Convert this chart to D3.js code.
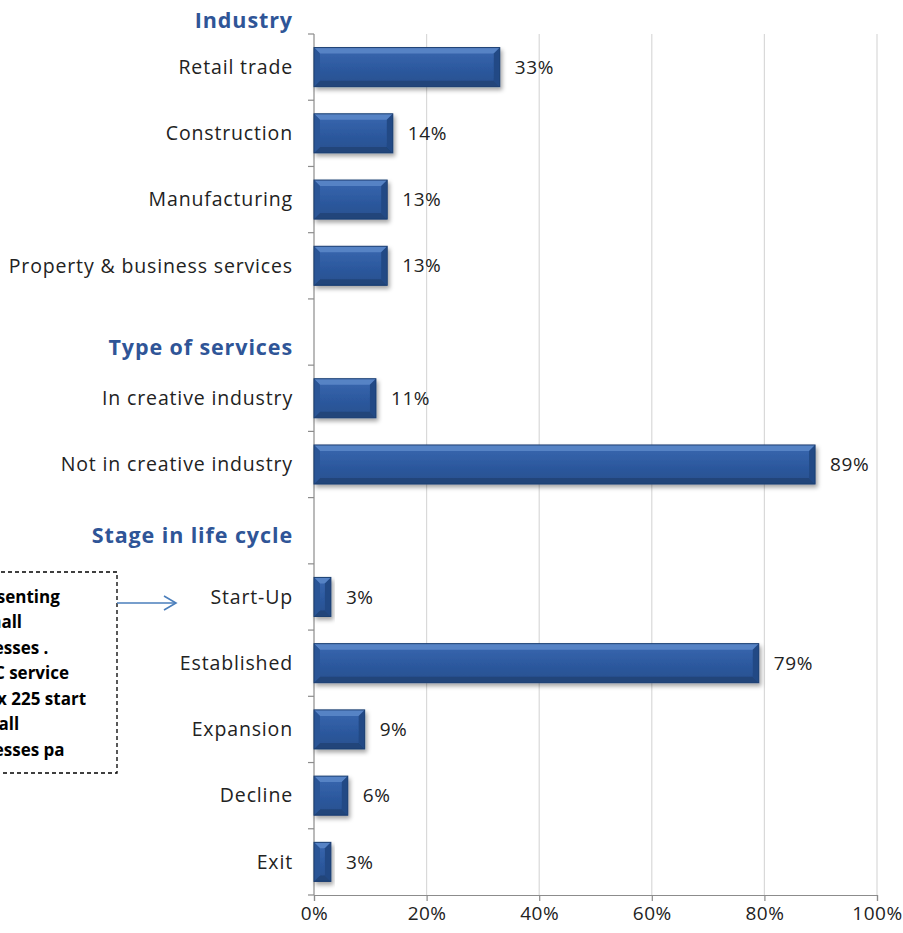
<!DOCTYPE html>
<html>
<head>
<meta charset="utf-8">
<script src="https://cdn.jsdelivr.net/npm/d3@7"></script>
<style>
  html, body { margin: 0; padding: 0; background: #fff; }
  svg { display: block; }
</style>
</head>
<body>
<svg id="chart" width="903" height="933"></svg>
<script>
// Row order from top to bottom; "gap" rows hold the section headings.
const rowKeys = ["Retail trade", "Construction", "Manufacturing", "Property & business services",
  "gap1", "In creative industry", "Not in creative industry", "gap2",
  "Start-Up", "Established", "Expansion", "Decline", "Exit"];
const shares = [0.33, 0.14, 0.13, 0.13, null, 0.11, 0.89, null, 0.03, 0.79, 0.09, 0.06, 0.03];
const xTicks = [0, 0.2, 0.4, 0.6, 0.8, 1.0];
const sections = [
  { title: "Industry", row: "Retail trade", offset: -47 },
  { title: "Type of services", row: "gap1", offset: 15 },
  { title: "Stage in life cycle", row: "gap2", offset: 5 }
];
const noteLines = ["Representing", "for small", "businesses .", "The BC service", "approx 225 start", "up small", "businesses pa"];

const rows = rowKeys.map((k, i) => ({ key: k, value: shares[i] }));

const svg = d3.select("#chart");
const font = "'Open Sans', Lato, sans-serif";
const axisGrey = "#8c8c8c";

const x = d3.scaleLinear().domain([0, 1]).range([314, 877]);
const y = d3.scaleBand().domain(rowKeys).range([34, 895])
  .paddingInner(0.41).paddingOuter(0.205);
const step = y.step();

// Bar shading
const defs = svg.append("defs");
const grad = defs.append("linearGradient").attr("id", "barFill")
  .attr("x1", 0).attr("y1", 0).attr("x2", 0).attr("y2", 1);
grad.append("stop").attr("offset", "0%").attr("stop-color", "#3a68b0");
grad.append("stop").attr("offset", "50%").attr("stop-color", "#2d5aa0");
grad.append("stop").attr("offset", "100%").attr("stop-color", "#284f8e");
const shadow = defs.append("filter").attr("id", "barShadow")
  .attr("x", "-10%").attr("y", "-20%").attr("width", "130%").attr("height", "160%");
shadow.append("feDropShadow").attr("dx", 2).attr("dy", 3).attr("stdDeviation", 2)
  .attr("flood-color", "#000").attr("flood-opacity", 0.35);

// Vertical gridlines
svg.append("g").selectAll("line").data(xTicks.slice(1)).join("line")
  .attr("x1", d => x(d)).attr("x2", d => x(d))
  .attr("y1", 34).attr("y2", 895)
  .attr("stroke", "#d9d9d9").attr("stroke-width", 1.2);

// Bottom axis
const xAxis = svg.append("g").attr("transform", "translate(0,895)")
  .call(d3.axisBottom(x).tickValues(xTicks).tickFormat(d3.format(".0%")).tickSize(6).tickPadding(6));
xAxis.select(".domain").attr("stroke", axisGrey).attr("stroke-width", 1.2);
xAxis.selectAll(".tick line").attr("stroke", axisGrey).attr("stroke-width", 1.2);
xAxis.selectAll(".tick text").attr("font-family", font).attr("font-size", 19)
  .attr("letter-spacing", 0.5).attr("fill", "#222");

// Left axis line with tick marks at row boundaries
svg.append("line").attr("x1", x(0)).attr("x2", x(0)).attr("y1", 34).attr("y2", 895)
  .attr("stroke", axisGrey).attr("stroke-width", 1.2);
const bounds = d3.range(rowKeys.length + 1).map(i => 34 + i * step);
svg.append("g").selectAll("line").data(bounds).join("line")
  .attr("x1", x(0) - 6).attr("x2", x(0))
  .attr("y1", d => d).attr("y2", d => d)
  .attr("stroke", axisGrey).attr("stroke-width", 1.2);

// Category labels
svg.append("g").selectAll("text").data(rows.filter(r => r.value !== null)).join("text")
  .attr("x", x(0) - 21).attr("y", d => y(d.key) + y.bandwidth() / 2)
  .attr("dy", "0.35em").attr("text-anchor", "end")
  .attr("font-family", font).attr("font-size", 19.5).attr("letter-spacing", 0.85).attr("fill", "#222")
  .text(d => d.key);

// Section headings
svg.append("g").selectAll("text").data(sections).join("text")
  .attr("x", x(0) - 21)
  .attr("y", d => y(d.row) + y.bandwidth() / 2 + d.offset)
  .attr("dy", "0.35em").attr("text-anchor", "end")
  .attr("font-family", font).attr("font-size", 21.5).attr("font-weight", "bold")
  .attr("letter-spacing", 0.9).attr("fill", "#2f5597")
  .text(d => d.title);

// Bevelled bars
const bars = svg.append("g").selectAll("g").data(rows.filter(r => r.value !== null)).join("g")
  .attr("filter", "url(#barShadow)");
bars.each(function (d) {
  const g = d3.select(this);
  const x0 = x(0), x1 = x(d.value), y0 = y(d.key), h = y.bandwidth(), y1 = y0 + h;
  const w = x1 - x0;
  const b = Math.min(6, w / 2.2);
  g.append("rect").attr("x", x0).attr("y", y0).attr("width", w).attr("height", h)
    .attr("fill", "url(#barFill)");
  // top bevel
  g.append("polygon").attr("points", [[x0, y0], [x1, y0], [x1 - b, y0 + b], [x0 + b, y0 + b]].join(" "))
    .attr("fill", "#5b86c8").attr("opacity", 0.9);
  // bottom bevel
  g.append("polygon").attr("points", [[x0, y1], [x1, y1], [x1 - b, y1 - b], [x0 + b, y1 - b]].join(" "))
    .attr("fill", "#1f4478").attr("opacity", 0.9);
  // left bevel
  g.append("polygon").attr("points", [[x0, y0], [x0 + b, y0 + b], [x0 + b, y1 - b], [x0, y1]].join(" "))
    .attr("fill", "#2a5596");
  // right bevel
  g.append("polygon").attr("points", [[x1, y0], [x1 - b, y0 + b], [x1 - b, y1 - b], [x1, y1]].join(" "))
    .attr("fill", "#234a85");
  g.append("rect").attr("x", x0).attr("y", y0).attr("width", w).attr("height", h)
    .attr("fill", "none").attr("stroke", "#1d3f72").attr("stroke-width", 1);
});

// Value labels
svg.append("g").selectAll("text").data(rows.filter(r => r.value !== null)).join("text")
  .attr("x", d => x(d.value) + 15).attr("y", d => y(d.key) + y.bandwidth() / 2)
  .attr("dy", "0.35em")
  .attr("font-family", font).attr("font-size", 19).attr("letter-spacing", 0.6).attr("fill", "#222")
  .text(d => d3.format(".0%")(d.value));

// Note box with pointer to the Start-Up row
const noteTop = 572, noteBottom = 773, noteRight = 117;
svg.append("rect").attr("x", -20).attr("y", noteTop).attr("width", noteRight + 20).attr("height", noteBottom - noteTop)
  .attr("fill", "#fff").attr("stroke", "#000").attr("stroke-width", 1.3).attr("stroke-dasharray", "4,3");
svg.append("g").selectAll("text").data(noteLines).join("text")
  .attr("x", -53).attr("y", (d, i) => 597 + i * 25.5).attr("dy", "0.35em")
  .attr("font-family", font).attr("font-size", 17).attr("font-weight", "bold").attr("fill", "#000")
  .text(d => d);
const ay = y("Start-Up") + y.bandwidth() / 2 + 6;
svg.append("line").attr("x1", noteRight).attr("x2", 176).attr("y1", ay).attr("y2", ay)
  .attr("stroke", "#4a7ebb").attr("stroke-width", 1.6);
svg.append("polyline").attr("points", [[164, ay - 7], [176, ay], [164, ay + 7]].join(" "))
  .attr("fill", "none").attr("stroke", "#4a7ebb").attr("stroke-width", 1.6);
</script>
</body>
</html>
